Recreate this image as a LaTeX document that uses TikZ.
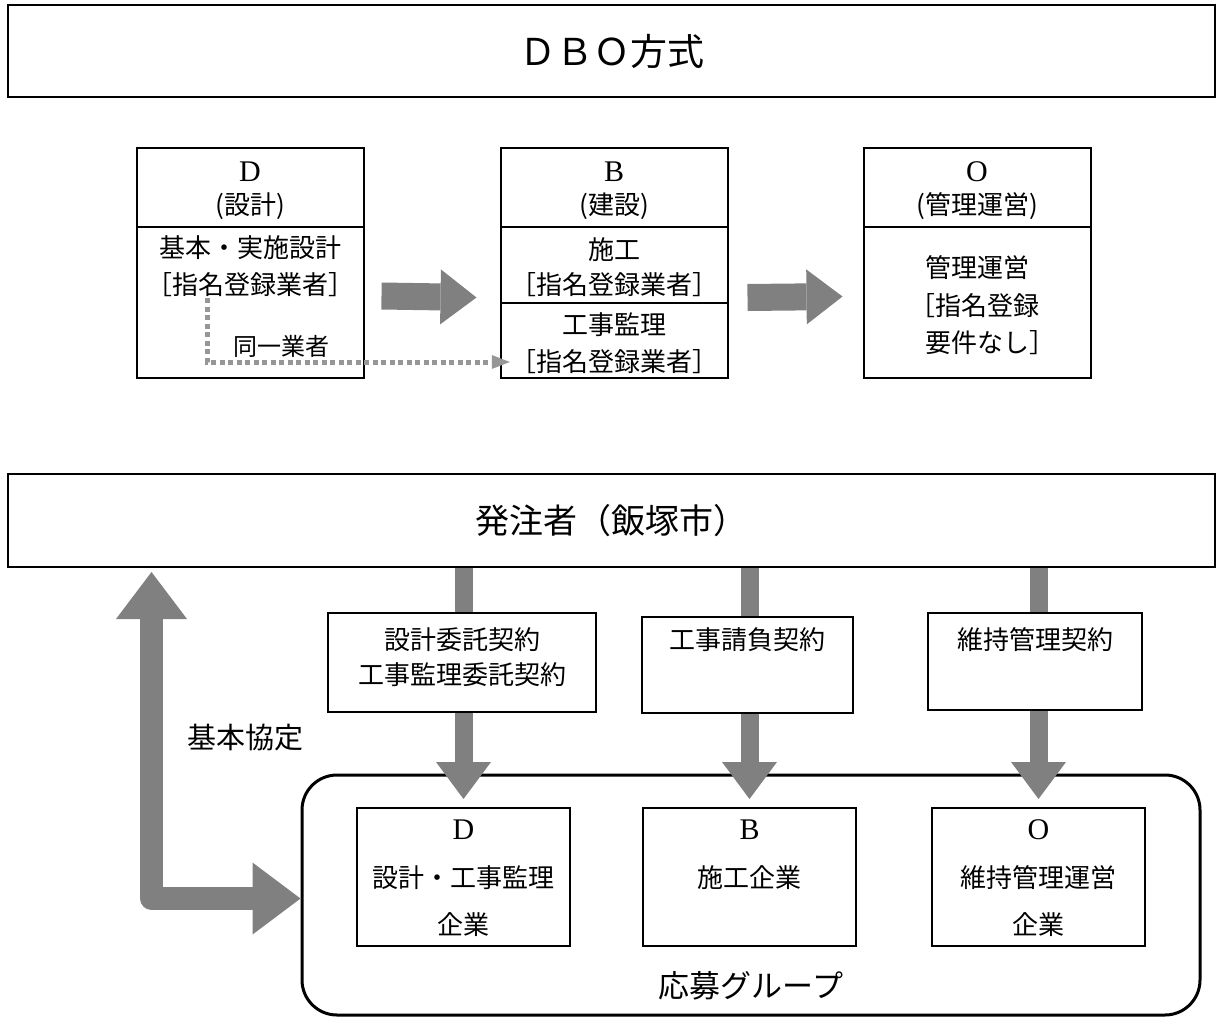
\documentclass[tikz,border=0pt]{standalone}
\usepackage{fontspec}
\setmainfont{Noto Sans CJK JP}
\newfontfamily\latinfont{Liberation Serif}
\usetikzlibrary{arrows.meta, calc, positioning}
\definecolor{arrowgray}{HTML}{808080}
\definecolor{dotgray}{HTML}{969696}

\begin{document}
\begin{tikzpicture}[x=1pt, y=-1pt,
  box/.style={draw, line width=2pt, inner sep=0pt, fill=white},
  txt/.style={font=\fontsize{26}{30}\selectfont, inner sep=0pt},
  bigtxt/.style={font=\fontsize{#1}{#1}\selectfont, inner sep=0pt},
  letter/.style={font=\latinfont\fontsize{30}{30}\selectfont, inner sep=0pt},
  fat/.style={draw=arrowgray, line width=#1},
  toparrow/.style={fat=27pt, -{Triangle[length=36pt, width=55pt, line width=0pt]}},
  downarrow/.style={fat=18pt, -{Triangle[length=37pt, width=55pt, line width=0pt]}},
  sameline/.style={draw=dotgray, line width=5pt, dash pattern=on 5pt off 3.5pt,
    -{Triangle[length=18pt, width=14pt, line width=0pt]}}]
  \useasboundingbox (0,0) rectangle (1217,1019);

  % title
  \node[box, bigtxt=37, line width=1.6pt, minimum width=1207pt, minimum height=92pt] (title) at (611.5,51) {ＤＢＯ方式};

  % D, B, O stages
  \foreach \n/\x/\j in {D/250/設計, B/614/建設, O/977/管理運営} {
    \node[box, minimum width=227pt, minimum height=79pt] (h\n) at (\x,187.5) {};
    \node[letter] (l\n) at (\x,172) {\n};
    \node[txt] (p\n) at (\x,206) {(\j)};
  }
  \node[box, minimum width=227pt, minimum height=151pt] (bodyD) at (250,302.5) {};
  \node[box, minimum width=227pt, minimum height=76pt] (bodyB1) at (614,265) {};
  \node[box, minimum width=227pt, minimum height=75pt] (bodyB2) at (614,340.5) {};
  \node[box, minimum width=227pt, minimum height=151pt] (bodyO) at (977,302.5) {};

  \node[txt] (dD1) at (250,248) {基本・実施設計};
  \node[txt] (dD2) at (250,285) {［指名登録業者］};
  \node[txt] (bS1) at (614,250) {施工};
  \node[txt] (bS2) at (614,285) {［指名登録業者］};
  \node[txt] (bK1) at (614,325) {工事監理};
  \node[txt] (bK2) at (614,362) {［指名登録業者］};
  \node[txt] (oK1) at (977,268) {管理運営};
  \node[txt, anchor=west] (oK2) at (909,306) {［指名登録};
  \node[txt, anchor=west] (oK3) at (925,343) {要件なし］};

  \draw[toparrow] ($(bodyD.east)+(17,-6.5)$) -- ($(bodyB1.south west)+(-23,-6.5)$);
  \draw[toparrow] ($(bodyB1.south east)+(19,-6.5)$) -- ($(bodyO.west)+(-20,-6)$);

  % same contractor
  \coordinate (same) at (207,298);
  \draw[sameline] (same) |- (bK2.west);
  \node[txt, font=\fontsize{24}{24}\selectfont] (sametxt) at (281,346) {同一業者};

  % owner and group
  \node[box, bigtxt=34, minimum width=1207pt, minimum height=93pt] (owner) at (611.5,520.5) {発注者（飯塚市）};
  \node[box, line width=3pt, rounded corners=35pt, fill=none, minimum width=898pt, minimum height=240pt] (group) at (751,895) {};
  \node[bigtxt=31] (grouptxt) at (751,986) {応募グループ};

  \foreach \n/\x/\a/\b in {D/463.5/設計・工事監理/企業, B/749.5/施工企業/{}, O/1038.5/維持管理運営/企業} {
    \node[box, minimum width=213pt, minimum height=138pt] (g\n) at (\x,877) {};
    \node[letter] (gl\n) at (\x,830) {\n};
    \node[txt] (ga\n) at (\x,878) {\a};
    \node[txt] (gb\n) at (\x,925) {\b};
  }

  \foreach \n in {D, B, O}
    \draw[downarrow] (owner.south -| g\n.north) -- ([yshift=8pt]g\n.north);

  % contracts
  \node[box, minimum width=268pt, minimum height=99pt] (c1) at (462,662.5) {};
  \node[txt] (c1a) at (462,640) {設計委託契約};
  \node[txt] (c1b) at (462,675) {工事監理委託契約};
  \node[box, minimum width=211pt, minimum height=96pt] (c2) at (747.5,665) {};
  \node[txt] (c2a) at (747.5,640) {工事請負契約};
  \node[box, minimum width=214pt, minimum height=97pt] (c3) at (1035,661.5) {};
  \node[txt] (c3a) at (1035,640) {維持管理契約};

  % basic agreement
  \coordinate (kup) at (151.5,572);
  \draw[fat=23pt, line join=round, {Triangle[length=47pt, width=71pt, line width=0pt]}-{Triangle[length=48pt, width=72pt, line width=0pt]}] (kup) |- (group.west |- 0,898.5);
  \node[bigtxt=29] (kyotei) at (245,738) {基本協定};
\end{tikzpicture}
\end{document}
